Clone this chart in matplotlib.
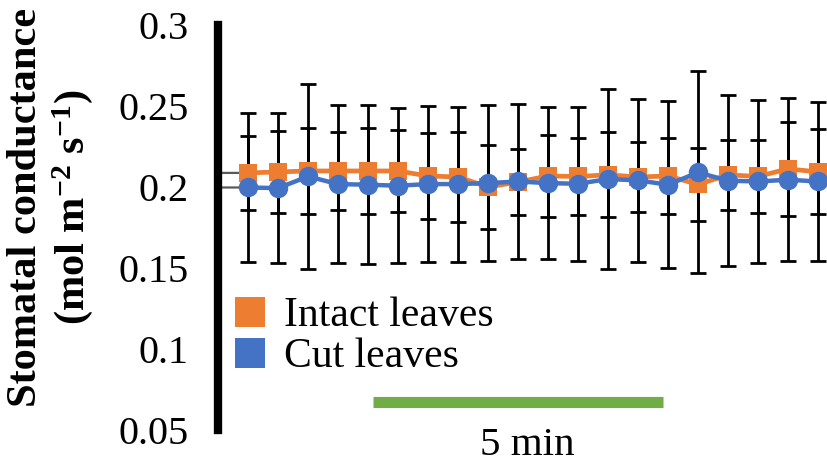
import matplotlib
matplotlib.use("Agg")
import matplotlib.pyplot as plt
import numpy as np
from matplotlib.lines import Line2D

# stomatal conductance (mol m-2 s-1), one reading per time point
time_points = np.arange(1, 21)
intact_mean = [0.2087, 0.2093, 0.2099, 0.2099, 0.2099, 0.2099, 0.2068, 0.2062, 0.2000, 0.2031,
               0.2068, 0.2065, 0.2075, 0.2062, 0.2068, 0.2016, 0.2075, 0.2065, 0.2112, 0.2093]
intact_sd = [0.0230, 0.0255, 0.0268, 0.0242, 0.0268, 0.0255, 0.0268, 0.0275, 0.0261, 0.0202,
             0.0256, 0.0240, 0.0262, 0.0217, 0.0232, 0.0225, 0.0214, 0.0227, 0.0289, 0.0262]
cut_mean = [0.1997, 0.1993, 0.2065, 0.2018, 0.2014, 0.2008, 0.2018, 0.2018, 0.2024, 0.2034,
            0.2024, 0.2020, 0.2049, 0.2041, 0.2014, 0.2090, 0.2039, 0.2034, 0.2045, 0.2034]
cut_sd = [0.0457, 0.0462, 0.0570, 0.0487, 0.0490, 0.0478, 0.0482, 0.0478, 0.0483, 0.0479,
          0.0471, 0.0474, 0.0554, 0.0503, 0.0515, 0.0623, 0.0526, 0.0506, 0.0504, 0.0493]
y_ticks = [0.05, 0.1, 0.15, 0.2, 0.25, 0.3]
y_tick_labels = ["0.05", "0.1", "0.15", "0.2", "0.25", "0.3"]

# 5 min scale bar (in time-point units)
scale_bar_x = (5.15, 14.85)
scale_bar_y = 0.067

ORANGE = "#ED7D31"
BLUE = "#4472C4"
GREEN = "#70AD47"

plt.rcParams["font.family"] = ["Liberation Serif", "DejaVu Serif"]
plt.rcParams["mathtext.fontset"] = "custom"
plt.rcParams["mathtext.rm"] = "Liberation Serif"
plt.rcParams["mathtext.bf"] = "Liberation Serif:bold"

fig = plt.figure(figsize=(8.27, 4.70), dpi=100)
W, H = 827, 470
ax = fig.add_axes([218 / W, 1 - 430 / H, (W - 218) / W, 405 / H])

# faint underlying grey traces
for vals in (intact_mean, cut_mean):
    ax.plot(np.r_[0, time_points], np.r_[vals[0], vals], color="#595959", lw=1.6, zorder=1)

ax.errorbar(time_points, cut_mean, yerr=cut_sd, fmt="none", ecolor="black",
            elinewidth=2.0, capsize=5.5, capthick=2.0, zorder=2)
ax.errorbar(time_points, intact_mean, yerr=intact_sd, fmt="none", ecolor="black",
            elinewidth=2.0, capsize=5.5, capthick=2.0, zorder=2)

ax.plot(time_points, intact_mean, color=ORANGE, lw=3.4, marker="s", markersize=13,
        markeredgewidth=0, zorder=3)
ax.plot(time_points, cut_mean, color=BLUE, lw=3.2, marker="o", markersize=14,
        markeredgewidth=0, zorder=4)

ax.plot(scale_bar_x, [scale_bar_y, scale_bar_y], color=GREEN, lw=8, solid_capstyle="butt", zorder=3)
ax.text(np.mean(scale_bar_x) + 0.3, 0.0405, "5 min", fontsize=29.5, ha="center", va="center",
        clip_on=False)

ax.set_xlim(0, 20.3)
ax.set_ylim(0.05, 0.3)
ax.set_xticks([])
ax.set_yticks(y_ticks)
ax.set_yticklabels(y_tick_labels, fontsize=29)
ax.tick_params(axis="y", length=0, pad=21)
for side in ("top", "right", "bottom"):
    ax.spines[side].set_visible(False)
ax.spines["left"].set_linewidth(6)
ax.patch.set_alpha(0)

handles = [Line2D([], [], ls="none", marker="s", markersize=21, color=ORANGE, markeredgewidth=0),
           Line2D([], [], ls="none", marker="s", markersize=21, color=BLUE, markeredgewidth=0)]
fig.legend(handles, ["Intact leaves", "Cut leaves"], loc="upper left",
           bbox_to_anchor=(234 / W, 1 - 297 / H), frameon=False, fontsize=30,
           handlelength=0.75, handletextpad=0.45, borderpad=0, borderaxespad=0,
           labelspacing=0.05)

fig.text(51 / W, 1 - 207 / H,
         "Stomatal conductance\n(mol m$\\mathbf{^{-2}}$ s$\\mathbf{^{-1}}$)",
         rotation=90, ha="center", va="center", fontsize=30.5, fontweight="bold",
         multialignment="center", linespacing=1.15)

fig.savefig("out.png", dpi=100)
